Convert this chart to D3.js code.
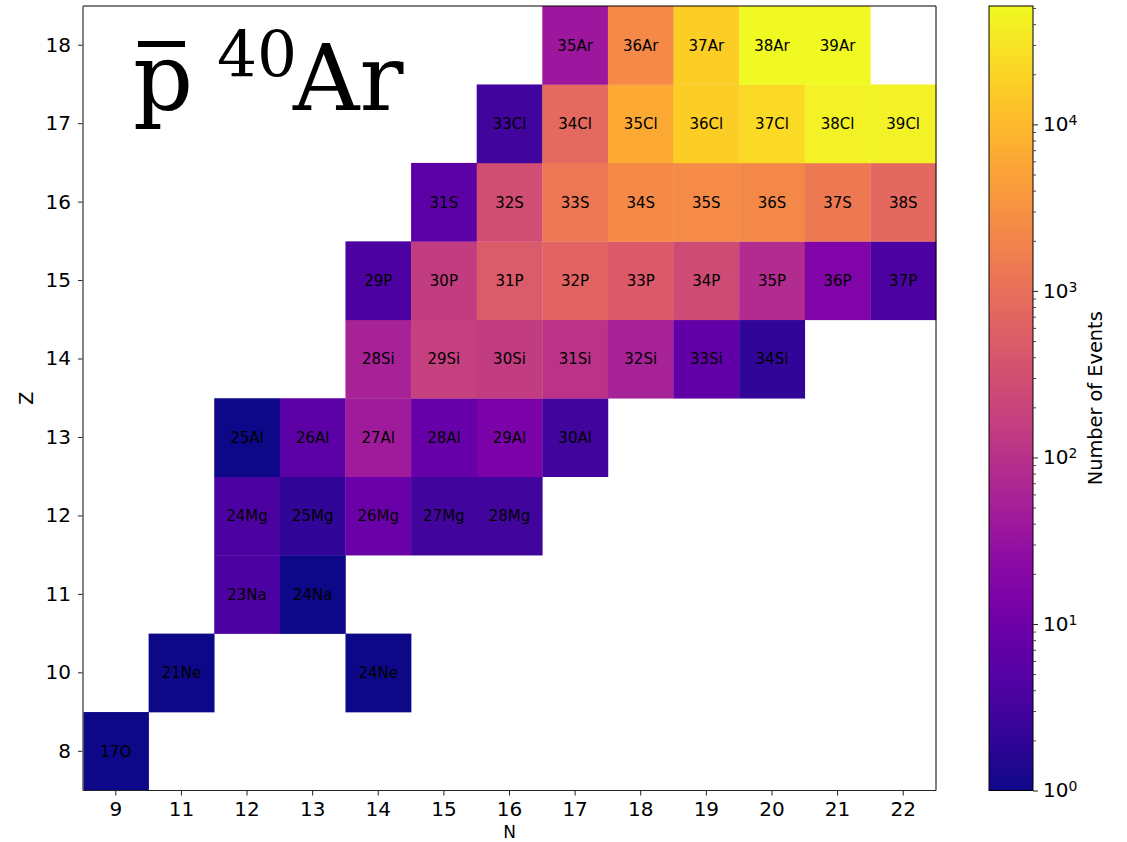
<!DOCTYPE html>
<html>
<head>
<meta charset="utf-8">
<script src="https://cdn.jsdelivr.net/npm/d3@7"></script>
<style>
    body { margin: 0; background: #fff; }
    text { font-family: "DejaVu Sans", sans-serif; fill: #000; }
</style>
</head>
<body>
<svg id="chart" width="1127" height="842"></svg>
<script>
// Axis categories (neutron number on x, proton number on y)
const N_VALUES = [9, 11, 12, 13, 14, 15, 16, 17, 18, 19, 20, 21, 22];
const Z_VALUES = [8, 10, 11, 12, 13, 14, 15, 16, 17, 18];

// One entry per filled cell
const cellN = [
    9,
    11, 14,
    12, 13,
    12, 13, 14, 15, 16,
    12, 13, 14, 15, 16, 17,
    14, 15, 16, 17, 18, 19, 20,
    14, 15, 16, 17, 18, 19, 20, 21, 22,
    15, 16, 17, 18, 19, 20, 21, 22,
    16, 17, 18, 19, 20, 21, 22,
    17, 18, 19, 20, 21
];
const cellZ = [
    8,
    10, 10,
    11, 11,
    12, 12, 12, 12, 12,
    13, 13, 13, 13, 13, 13,
    14, 14, 14, 14, 14, 14, 14,
    15, 15, 15, 15, 15, 15, 15, 15, 15,
    16, 16, 16, 16, 16, 16, 16, 16,
    17, 17, 17, 17, 17, 17, 17,
    18, 18, 18, 18, 18
];
const cellLabel = [
    "17O",
    "21Ne", "24Ne",
    "23Na", "24Na",
    "24Mg", "25Mg", "26Mg", "27Mg", "28Mg",
    "25Al", "26Al", "27Al", "28Al", "29Al", "30Al",
    "28Si", "29Si", "30Si", "31Si", "32Si", "33Si", "34Si",
    "29P", "30P", "31P", "32P", "33P", "34P", "35P", "36P", "37P",
    "31S", "32S", "33S", "34S", "35S", "36S", "37S", "38S",
    "33Cl", "34Cl", "35Cl", "36Cl", "37Cl", "38Cl", "39Cl",
    "35Ar", "36Ar", "37Ar", "38Ar", "39Ar"
];
const cellCount = [
    1,
    1, 1,
    4, 1,
    4, 2, 9, 3, 3,
    1, 6, 42, 8, 14, 3,
    55, 170, 150, 110, 55, 7, 2,
    4, 150, 480, 680, 450, 260, 80, 16, 4,
    6, 290, 1300, 2400, 2500, 2300, 1350, 760,
    3, 800, 6200, 17000, 23000, 42000, 43000,
    38, 2400, 17000, 51400, 50000
];

const CBAR_MAJOR = [1, 10, 100, 1000, 10000];

const WIDTH = 1127;
const HEIGHT = 842;
const PLOT_LEFT = 83;
const PLOT_RIGHT = 936;
const PLOT_TOP = 6;
const PLOT_BOTTOM = 790.5;
const CBAR_LEFT = 989;
const CBAR_RIGHT = 1033;

const TICK_FONT = 20;
const CELL_FONT = 15;

const svg = d3.select("#chart");
svg.append("rect").attr("width", WIDTH).attr("height", HEIGHT).attr("fill", "#fff");

const cells = cellN.map((n, idx) => ({
    n: n,
    z: cellZ[idx],
    label: cellLabel[idx],
    count: cellCount[idx]
}));

const xScale = d3.scaleBand()
    .domain(N_VALUES)
    .range([PLOT_LEFT, PLOT_RIGHT]);

const yScale = d3.scaleBand()
    .domain(Z_VALUES.slice().reverse())
    .range([PLOT_TOP, PLOT_BOTTOM]);

const vmax = d3.max(cellCount);
const color = d3.scaleSequentialLog(d3.interpolatePlasma).domain([1, vmax]);

// Heatmap cells
svg.append("g")
    .selectAll("rect")
    .data(cells)
    .join("rect")
    .attr("x", d => xScale(d.n))
    .attr("y", d => yScale(d.z))
    .attr("width", xScale.bandwidth() + 0.3)
    .attr("height", yScale.bandwidth() + 0.3)
    .attr("fill", d => color(d.count));

svg.append("g")
    .selectAll("text")
    .data(cells)
    .join("text")
    .attr("x", d => xScale(d.n) + xScale.bandwidth() / 2)
    .attr("y", d => yScale(d.z) + yScale.bandwidth() / 2)
    .attr("text-anchor", "middle")
    .attr("dy", "0.36em")
    .style("font-size", CELL_FONT + "px")
    .attr("fill", "#0a0a0a")
    .text(d => d.label);

// Axes
function styleAxis(g) {
    g.select(".domain").remove();
    g.selectAll(".tick line").attr("stroke", "#222").attr("stroke-width", 1);
    g.selectAll(".tick text")
        .attr("fill", "#111")
        .style("font-size", TICK_FONT + "px")
        .style("font-family", "DejaVu Sans, sans-serif");
}

svg.append("g")
    .attr("transform", `translate(0, ${PLOT_BOTTOM})`)
    .call(d3.axisBottom(xScale).tickSize(5).tickPadding(6))
    .call(styleAxis);

svg.append("g")
    .attr("transform", `translate(${PLOT_LEFT}, 0)`)
    .call(d3.axisLeft(yScale).tickSize(5).tickPadding(7))
    .call(styleAxis);

// Frame
const frame = svg.append("g").attr("fill", "none");
frame.append("line")
    .attr("x1", PLOT_LEFT).attr("x2", PLOT_RIGHT)
    .attr("y1", PLOT_TOP).attr("y2", PLOT_TOP)
    .attr("stroke", "#000");
frame.append("line")
    .attr("x1", PLOT_RIGHT).attr("x2", PLOT_RIGHT)
    .attr("y1", PLOT_TOP).attr("y2", PLOT_BOTTOM)
    .attr("stroke", "#000");
frame.append("line")
    .attr("x1", PLOT_LEFT).attr("x2", PLOT_RIGHT)
    .attr("y1", PLOT_BOTTOM).attr("y2", PLOT_BOTTOM)
    .attr("stroke", "#222").attr("stroke-width", 1.2);
frame.append("line")
    .attr("x1", PLOT_LEFT).attr("x2", PLOT_LEFT)
    .attr("y1", PLOT_TOP).attr("y2", PLOT_BOTTOM)
    .attr("stroke", "#666").attr("stroke-width", 1.6);

// Axis labels
svg.append("text")
    .attr("x", (PLOT_LEFT + PLOT_RIGHT) / 2)
    .attr("y", 837.5)
    .attr("text-anchor", "middle")
    .style("font-size", "17px")
    .attr("fill", "#111")
    .text("N");

svg.append("text")
    .attr("transform", `translate(33, ${(PLOT_TOP + PLOT_BOTTOM) / 2}) rotate(-90)`)
    .attr("text-anchor", "middle")
    .style("font-size", "19px")
    .attr("fill", "#111")
    .text("Z");

// Title: p-bar 40Ar
const title = svg.append("g");
title.append("text")
    .attr("x", 133).attr("y", 110)
    .style("font-family", "DejaVu Serif, serif")
    .style("font-size", "94px")
    .text("p");
title.append("rect")
    .attr("x", 138).attr("y", 41)
    .attr("width", 47).attr("height", 6)
    .attr("fill", "#000");
title.append("text")
    .attr("x", 217).attr("y", 77)
    .style("font-family", "DejaVu Serif, serif")
    .style("font-size", "63px")
    .text("40");
title.append("text")
    .attr("x", 293).attr("y", 110)
    .style("font-family", "DejaVu Serif, serif")
    .style("font-size", "92px")
    .text("Ar");

// Colorbar
const cScale = d3.scaleLog().domain([1, vmax]).range([PLOT_BOTTOM, PLOT_TOP]);

const grad = svg.append("defs").append("linearGradient")
    .attr("id", "cbar-grad")
    .attr("x1", 0).attr("x2", 0)
    .attr("y1", 1).attr("y2", 0);
d3.range(0, 1.0001, 0.05).forEach(t => {
    grad.append("stop")
        .attr("offset", t)
        .attr("stop-color", d3.interpolatePlasma(t));
});

svg.append("rect")
    .attr("x", CBAR_LEFT)
    .attr("y", PLOT_TOP)
    .attr("width", CBAR_RIGHT - CBAR_LEFT)
    .attr("height", PLOT_BOTTOM - PLOT_TOP)
    .attr("fill", "url(#cbar-grad)")
    .attr("stroke", "#000")
    .attr("stroke-width", 1);

const minorTicks = cScale.ticks().filter(v => !CBAR_MAJOR.includes(v));

svg.append("g")
    .attr("transform", `translate(${CBAR_RIGHT}, 0)`)
    .call(d3.axisRight(cScale).tickValues(minorTicks).tickSize(3).tickFormat(""))
    .call(g => g.select(".domain").remove())
    .call(g => g.selectAll(".tick line").attr("stroke", "#444"));

const majorAxis = svg.append("g")
    .attr("transform", `translate(${CBAR_RIGHT}, 0)`)
    .call(d3.axisRight(cScale).tickValues(CBAR_MAJOR).tickSize(5).tickPadding(5).tickFormat(() => "10"))
    .call(styleAxis);

majorAxis.selectAll(".tick text")
    .append("tspan")
    .attr("dy", "-0.45em")
    .style("font-size", "14px")
    .text(d => Math.round(Math.log10(d)));

svg.append("text")
    .attr("transform", `translate(1102, ${(PLOT_TOP + PLOT_BOTTOM) / 2}) rotate(-90)`)
    .attr("text-anchor", "middle")
    .attr("textLength", 174)
    .attr("lengthAdjust", "spacingAndGlyphs")
    .style("font-family", "DejaVu Sans Condensed, DejaVu Sans, sans-serif")
    .style("font-size", "20px")
    .attr("fill", "#111")
    .text("Number of Events");
</script>
</body>
</html>
